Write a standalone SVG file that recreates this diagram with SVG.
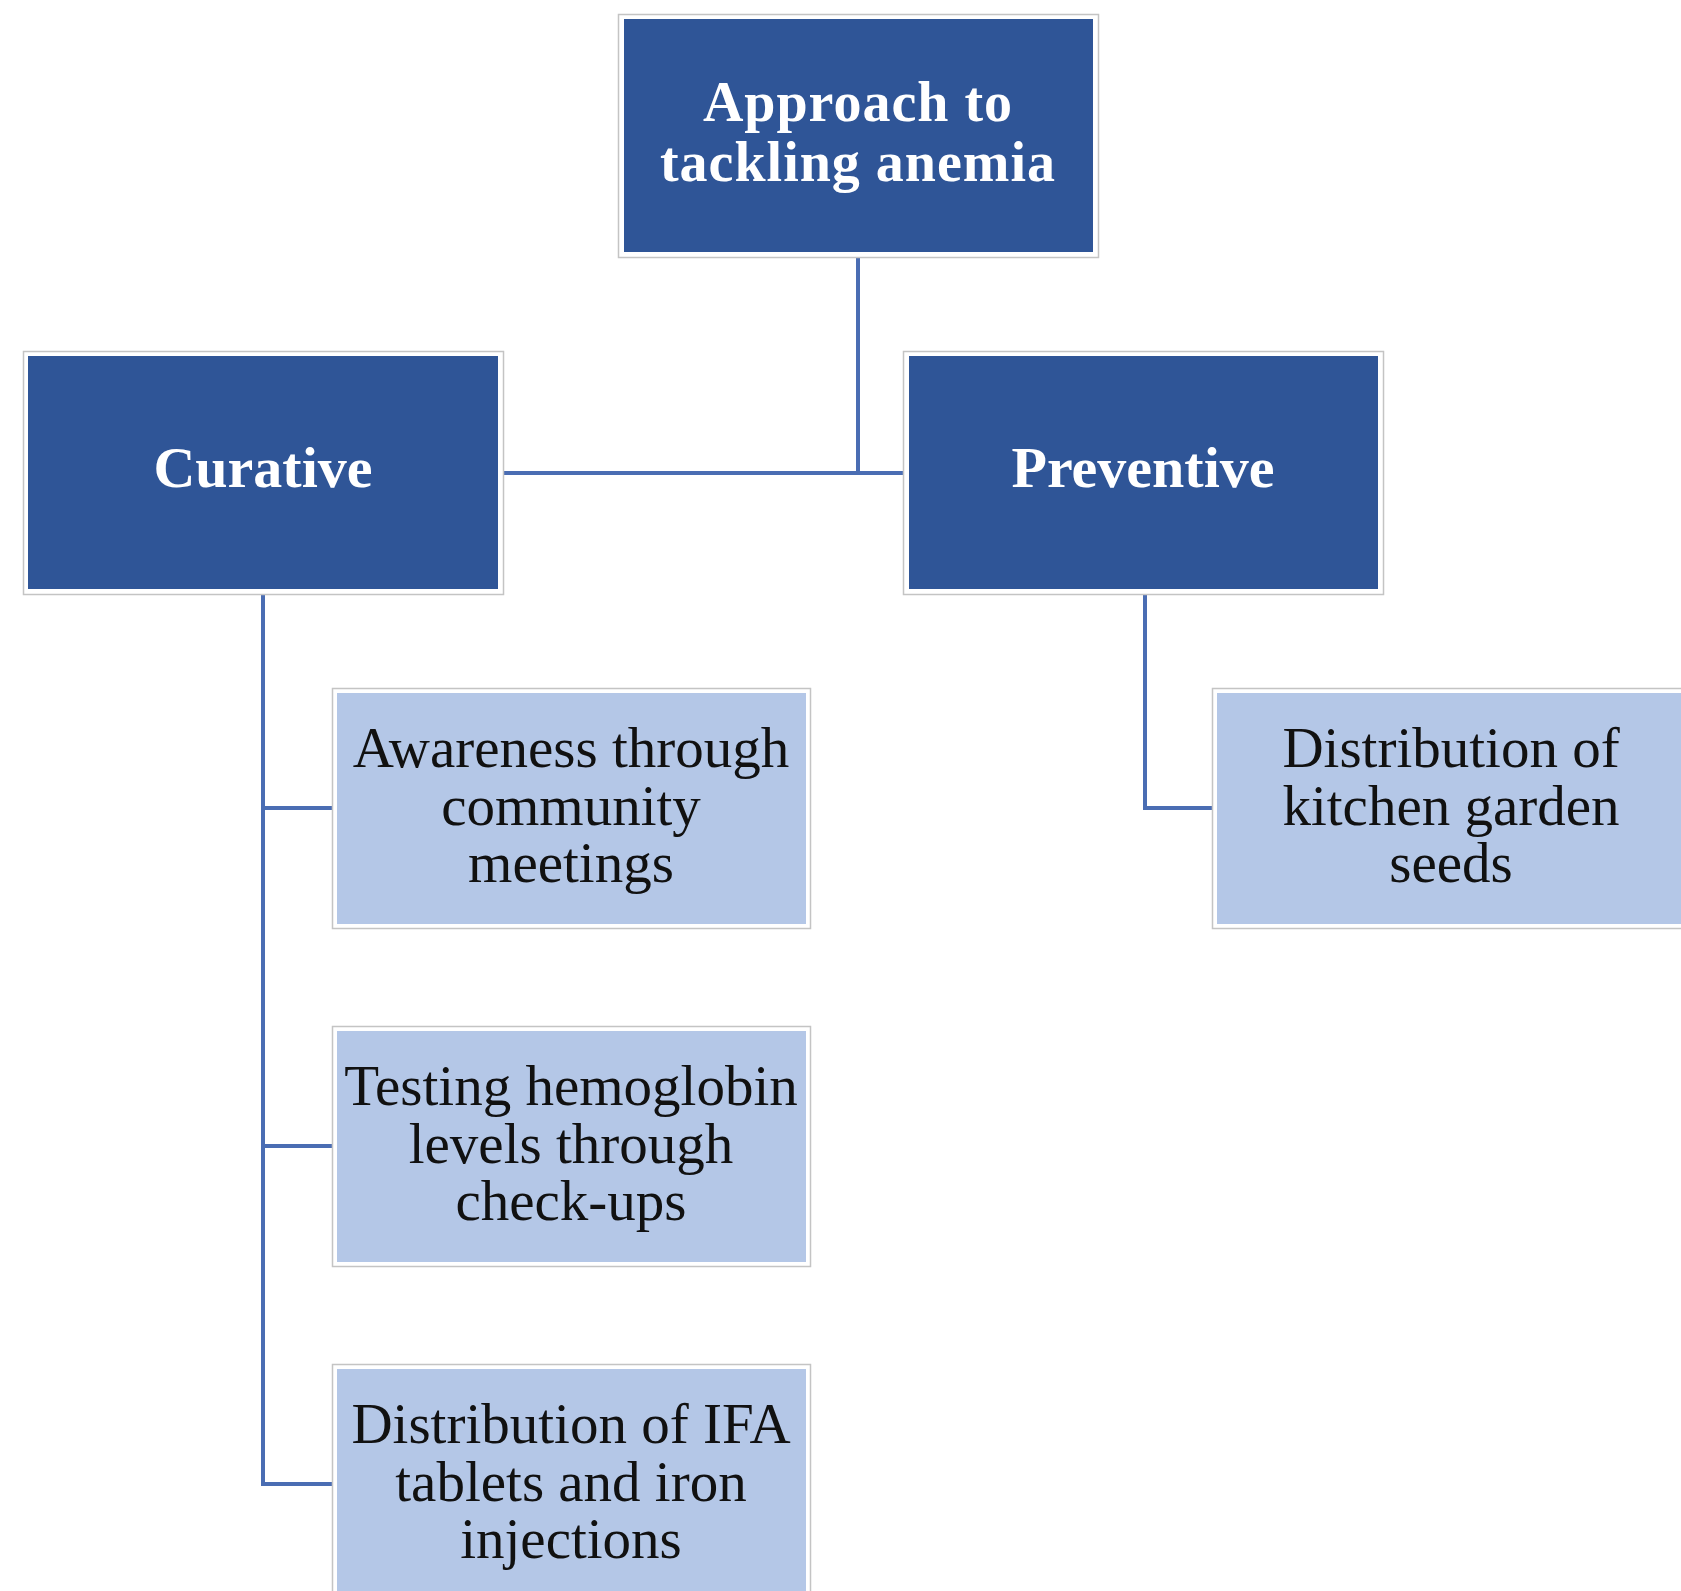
<svg xmlns="http://www.w3.org/2000/svg" width="1681" height="1591" viewBox="0 0 1681 1591">
<style>
.frame{fill:#ffffff;stroke:#c4c4c4;stroke-width:1.5}
.dark{fill:#2f5597}
.light{fill:#b4c7e7}
.hd{font-family:"Liberation Serif","DejaVu Serif",serif;font-weight:bold;font-size:58px;fill:#ffffff;text-anchor:middle}
.hd2{font-size:56px;letter-spacing:1px}
.tx{font-family:"Liberation Serif","DejaVu Serif",serif;font-size:57px;fill:#111111;text-anchor:middle}
.ln{fill:none;stroke:#4a6db3;stroke-width:4}
</style>
<rect width="1681" height="1591" fill="#ffffff"/>
<g id="connectors">
<path class="ln" d="M858 257 V473"/>
<path class="ln" d="M503 473 H903"/>
<path class="ln" d="M263 595 V1484 H332"/>
<path class="ln" d="M263 808 H332"/>
<path class="ln" d="M263 1146 H332"/>
<path class="ln" d="M1145 595 V808 H1212"/>
</g>
<g id="root">
<rect class="frame" x="618.5" y="14.5" width="480" height="243"/>
<rect class="dark" x="624" y="19" width="469" height="233"/>
<text class="hd hd2" x="858" y="121">Approach to</text>
<text class="hd hd2" x="858" y="181">tackling anemia</text>
</g>
<g id="curative">
<rect class="frame" x="23.5" y="351.5" width="480" height="243"/>
<rect class="dark" x="28" y="356" width="470" height="233"/>
<text class="hd" x="263" y="487">Curative</text>
</g>
<g id="preventive">
<rect class="frame" x="903.5" y="351.5" width="480" height="243"/>
<rect class="dark" x="909" y="356" width="469" height="233"/>
<text class="hd" x="1143" y="487">Preventive</text>
</g>
<g id="awareness">
<rect class="frame" x="332.5" y="688.5" width="478" height="240"/>
<rect class="light" x="337" y="693" width="469" height="231"/>
<text class="tx" x="571" y="767">Awareness through</text>
<text class="tx" x="571" y="825">community</text>
<text class="tx" x="571" y="882">meetings</text>
</g>
<g id="testing">
<rect class="frame" x="332.5" y="1026.5" width="478" height="240"/>
<rect class="light" x="337" y="1031" width="469" height="231"/>
<text class="tx" x="571" y="1105">Testing hemoglobin</text>
<text class="tx" x="571" y="1163">levels through</text>
<text class="tx" x="571" y="1220">check-ups</text>
</g>
<g id="ifa">
<rect class="frame" x="332.5" y="1364.5" width="478" height="240"/>
<rect class="light" x="337" y="1369" width="469" height="231"/>
<text class="tx" x="571" y="1443">Distribution of IFA</text>
<text class="tx" x="571" y="1501">tablets and iron</text>
<text class="tx" x="571" y="1558">injections</text>
</g>
<g id="seeds">
<rect class="frame" x="1212.5" y="688.5" width="478" height="240"/>
<rect class="light" x="1217" y="693" width="469" height="231"/>
<text class="tx" x="1451" y="767">Distribution of</text>
<text class="tx" x="1451" y="825">kitchen garden</text>
<text class="tx" x="1451" y="882">seeds</text>
</g>
</svg>
